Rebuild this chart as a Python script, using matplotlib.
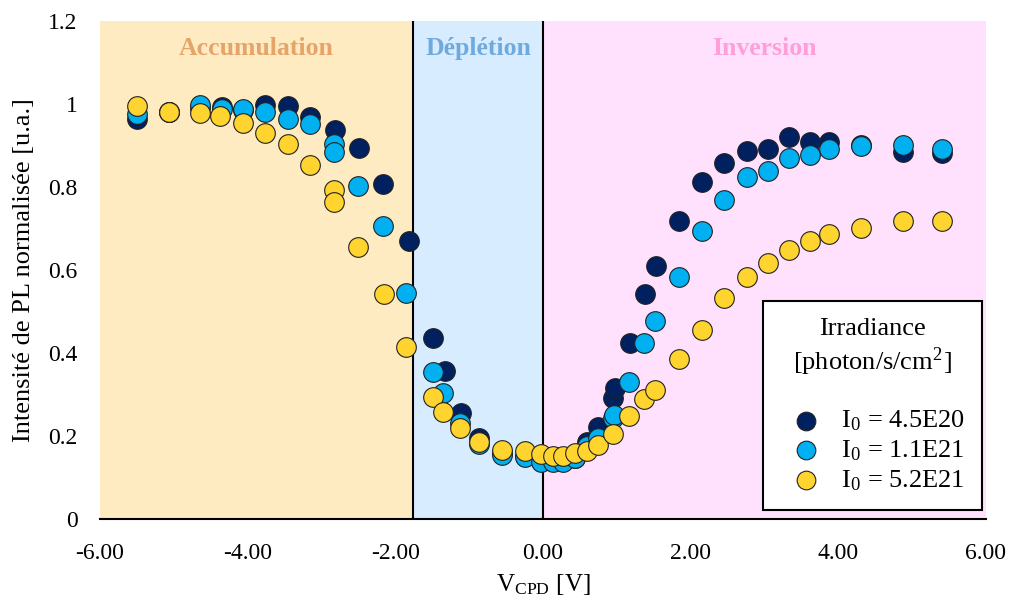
import numpy as np
import matplotlib
matplotlib.use("Agg")
import matplotlib.pyplot as plt

plt.rcParams['font.family'] = ['Liberation Serif', 'DejaVu Serif']
plt.rcParams['mathtext.fontset'] = 'stix'

# I0 = 4.5E20
x_45e20 = [-5.50, -5.07, -4.65, -4.35, -4.06, -3.77, -3.45, -3.16, -2.82, -2.49, -2.17, -1.82,
           -1.49, -1.33, -1.11, -0.86, -0.55, -0.25, -0.03, 0.13, 0.27, 0.43, 0.59, 0.75, 0.95,
           0.98, 1.18, 1.38, 1.53, 1.84, 2.16, 2.45, 2.76, 3.05, 3.33, 3.61, 3.87, 4.31, 4.88, 5.41]
y_45e20 = [0.965, 0.98, 0.99, 0.993, 0.985, 0.998, 0.995, 0.968, 0.937, 0.893, 0.807, 0.671,
           0.435, 0.357, 0.256, 0.196, 0.16, 0.152, 0.14, 0.14, 0.14, 0.148, 0.186, 0.222, 0.291,
           0.315, 0.425, 0.542, 0.610, 0.719, 0.813, 0.857, 0.887, 0.891, 0.921, 0.909, 0.909,
           0.901, 0.885, 0.881]

# I0 = 1.1E21
x_11e21 = [-5.50, -5.07, -4.65, -4.35, -4.06, -3.77, -3.45, -3.16, -2.83, -2.83, -2.50, -2.17,
           -1.85, -1.49, -1.35, -1.12, -0.86, -0.55, -0.25, -0.03, 0.13, 0.27, 0.43, 0.59, 0.75,
           0.95, 0.96, 1.17, 1.37, 1.52, 1.84, 2.15, 2.45, 2.76, 3.05, 3.33, 3.61, 3.87, 4.31,
           4.88, 5.41]
y_11e21 = [0.975, 0.98, 0.998, 0.989, 0.989, 0.981, 0.963, 0.951, 0.903, 0.885, 0.803, 0.706,
           0.544, 0.355, 0.303, 0.231, 0.180, 0.154, 0.150, 0.138, 0.138, 0.138, 0.146, 0.175,
           0.194, 0.243, 0.25, 0.331, 0.423, 0.478, 0.584, 0.694, 0.769, 0.823, 0.839, 0.871,
           0.877, 0.891, 0.899, 0.901, 0.891]

# I0 = 5.2E21
x_52e21 = [-5.50, -5.07, -4.65, -4.37, -4.06, -3.77, -3.46, -3.16, -2.83, -2.83, -2.50, -2.16,
           -1.85, -1.49, -1.35, -1.12, -0.86, -0.55, -0.25, -0.03, 0.13, 0.27, 0.43, 0.59, 0.75,
           0.95, 1.17, 1.37, 1.52, 1.84, 2.15, 2.45, 2.76, 3.05, 3.33, 3.61, 3.87, 4.31, 4.88, 5.41]
y_52e21 = [0.995, 0.981, 0.978, 0.971, 0.953, 0.931, 0.903, 0.853, 0.793, 0.765, 0.656, 0.542,
           0.415, 0.293, 0.259, 0.219, 0.186, 0.166, 0.164, 0.156, 0.152, 0.152, 0.158, 0.165,
           0.178, 0.205, 0.247, 0.288, 0.311, 0.385, 0.455, 0.533, 0.584, 0.618, 0.648, 0.671,
           0.686, 0.700, 0.718, 0.718]

labels = [r'I$_\mathregular{0}$ = 4.5E20', r'I$_\mathregular{0}$ = 1.1E21', r'I$_\mathregular{0}$ = 5.2E21']
colors = ['#002060', '#00B0F0', '#FFD42E']

regions = ['Accumulation', 'Déplétion', 'Inversion']
region_bounds = [(-6.0, -1.76), (-1.76, 0.0), (0.0, 6.0)]
region_fill = ['#FFEBC2', '#D8ECFF', '#FFE1FD']
region_text = ['#E6A468', '#6FAADF', '#FF9ED8']

fig, ax = plt.subplots(figsize=(10.09, 6.03), dpi=100)
fig.subplots_adjust(left=0.0991, right=0.9772, bottom=0.1393, top=0.9652)

for (a, b), fc, tc, name in zip(region_bounds, region_fill, region_text, regions):
    ax.axvspan(a, b, ymin=0, ymax=1, color=fc, lw=0, zorder=0)
    ax.text((a + b) / 2, 1.133, name, color=tc, fontsize=18.5, fontweight='bold',
            ha='center', va='center')
for xv in [-1.76, 0.0]:
    ax.plot([xv, xv], [0, 1.2], color='black', lw=1.5, zorder=1)

for xs, ys, c, lab in zip([x_45e20, x_11e21, x_52e21], [y_45e20, y_11e21, y_52e21], colors, labels):
    ax.scatter(xs, ys, s=200, color=c, edgecolor='#222222', linewidth=0.8, label=lab, zorder=3)

ax.set_xlim(-6, 6)
ax.set_ylim(0, 1.2)
ax.set_xticks(np.arange(-6, 6.1, 2))
ax.set_xticklabels(['%.2f' % v for v in np.arange(-6, 6.1, 2)])
ax.set_yticks([0, 0.2, 0.4, 0.6, 0.8, 1.0, 1.2])
ax.set_yticklabels(['0', '0.2', '0.4', '0.6', '0.8', '1', '1.2'])
ax.tick_params(length=0, labelsize=17)
ax.tick_params(axis='x', pad=17)
ax.tick_params(axis='y', pad=16)
for s in ['top', 'right', 'left']:
    ax.spines[s].set_visible(False)
ax.spines['bottom'].set_linewidth(1.5)
ax.spines['bottom'].set_zorder(4)

ax.set_xlabel(r'V$_\mathregular{CPD}$ [V]', fontsize=18, labelpad=6)
ax.set_ylabel('Intensité de PL normalisée [u.a.]', fontsize=19)
ax.yaxis.set_label_coords(-0.073, 0.5)

leg = ax.legend(title='Irradiance\n[photon/s/cm$^\\mathregular{2}$]\n', loc='lower right',
                bbox_to_anchor=(0.9955, 0.018), borderaxespad=0, fontsize=19, title_fontsize=19,
                frameon=True, fancybox=False, framealpha=1, edgecolor='black',
                handletextpad=0.3, labelspacing=0.2, borderpad=0.65, markerscale=0.95,
                alignment='center')
leg.get_title().set_multialignment('center')
leg.get_frame().set_linewidth(1.5)
leg.set_zorder(5)

plt.savefig('out.png', dpi=100)
